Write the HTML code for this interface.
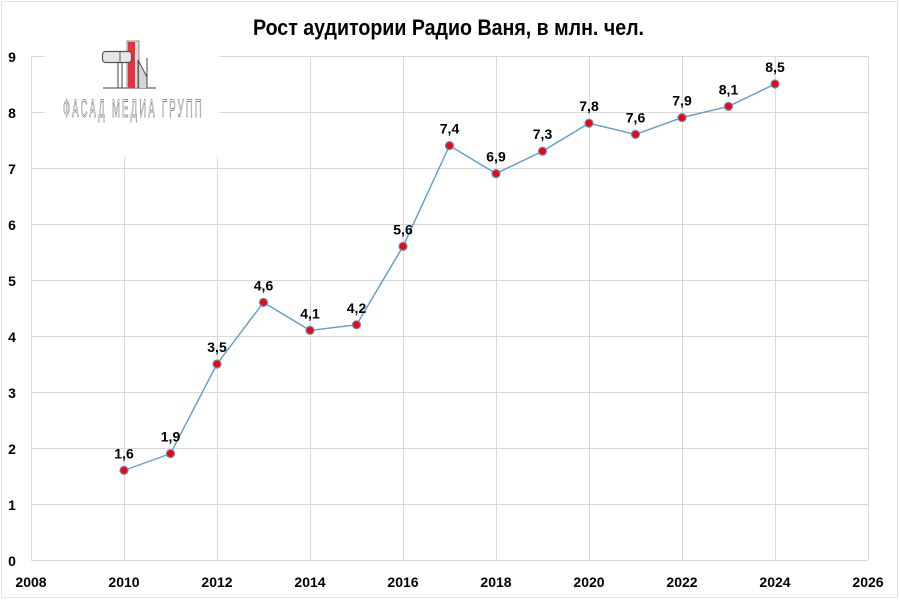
<!DOCTYPE html>
<html><head><meta charset="utf-8"><style>
html,body{margin:0;padding:0;background:#fff;}
svg{display:block;}
text{font-family:"Liberation Sans","DejaVu Sans",sans-serif;}
</style></head><body>
<svg width="900" height="600" viewBox="0 0 900 600" xmlns="http://www.w3.org/2000/svg">
<rect x="0" y="0" width="900" height="600" fill="#fff"/>
<rect x="1.5" y="1.5" width="896" height="596" fill="none" stroke="#e3e3e3" stroke-width="1"/>
<!-- gridlines -->
<g stroke="#d9d9d9" stroke-width="1" fill="none">
<line x1="31" y1="504.5" x2="868" y2="504.5"/>
<line x1="31" y1="448.5" x2="868" y2="448.5"/>
<line x1="31" y1="392.5" x2="868" y2="392.5"/>
<line x1="31" y1="336.5" x2="868" y2="336.5"/>
<line x1="31" y1="280.5" x2="868" y2="280.5"/>
<line x1="31" y1="224.5" x2="868" y2="224.5"/>
<line x1="31" y1="168.5" x2="868" y2="168.5"/>
<line x1="31" y1="112.5" x2="868" y2="112.5"/>
<line x1="31" y1="56.5" x2="868" y2="56.5"/>
<line x1="31.5" y1="56" x2="31.5" y2="560"/>
<line x1="124.5" y1="56" x2="124.5" y2="560"/>
<line x1="217.5" y1="56" x2="217.5" y2="560"/>
<line x1="310.5" y1="56" x2="310.5" y2="560"/>
<line x1="403.5" y1="56" x2="403.5" y2="560"/>
<line x1="496.5" y1="56" x2="496.5" y2="560"/>
<line x1="589.5" y1="56" x2="589.5" y2="560"/>
<line x1="682.5" y1="56" x2="682.5" y2="560"/>
<line x1="775.5" y1="56" x2="775.5" y2="560"/>
<line x1="868.5" y1="56" x2="868.5" y2="560"/>
<line x1="31" y1="560.5" x2="868" y2="560.5"/>
</g>
<!-- logo box -->
<rect x="45" y="3" width="174" height="154" fill="#fff"/>
<g>
<line x1="103" y1="88" x2="156" y2="88" stroke="#666" stroke-width="1.2"/>
<rect x="127" y="41" width="12" height="47" fill="#ddd" stroke="#777" stroke-width="0.8"/>
<rect x="128" y="42" width="7" height="46" fill="#e8303f"/>
<rect x="102.5" y="51.5" width="29" height="11" rx="3" fill="#e6e6e6" stroke="#555" stroke-width="1.2"/>
<line x1="120" y1="51" x2="120" y2="63" stroke="#555" stroke-width="1"/>
<line x1="118" y1="62" x2="118" y2="88" stroke="#444" stroke-width="1"/>
<line x1="122" y1="62" x2="122" y2="88" stroke="#444" stroke-width="1"/>
<polygon points="140,66 147,78 147,88 140,88" fill="#d5d5d5"/>
<polyline points="138,88 138,60 147,77 147,58 147,88" fill="none" stroke="#444" stroke-width="1"/>
<text x="63" y="117" font-size="25" letter-spacing="6" textLength="141" lengthAdjust="spacingAndGlyphs" fill="none" stroke="#333" stroke-width="0.6">ФАСАД МЕДИА ГРУПП</text>
</g>
<!-- title -->
<text x="253" y="35" font-size="22" font-weight="bold" fill="#000" textLength="391" lengthAdjust="spacingAndGlyphs">Рост аудитории Радио Ваня, в млн. чел.</text>
<!-- y labels -->
<g font-size="14" font-weight="bold" fill="#000" text-anchor="middle">
<text x="12" y="566">0</text>
<text x="12" y="510">1</text>
<text x="12" y="454">2</text>
<text x="12" y="398">3</text>
<text x="12" y="342">4</text>
<text x="12" y="286">5</text>
<text x="12" y="230">6</text>
<text x="12" y="174">7</text>
<text x="12" y="118">8</text>
<text x="12" y="62">9</text>
</g>
<!-- x labels -->
<g font-size="14" font-weight="bold" fill="#000" text-anchor="middle">
<text x="31" y="587">2008</text>
<text x="124" y="587">2010</text>
<text x="217" y="587">2012</text>
<text x="310" y="587">2014</text>
<text x="403" y="587">2016</text>
<text x="496" y="587">2018</text>
<text x="589" y="587">2020</text>
<text x="682" y="587">2022</text>
<text x="775" y="587">2024</text>
<text x="868" y="587">2026</text>
</g>
<!-- series line -->
<polyline fill="none" stroke="#5b9bd5" stroke-width="1.4" points="124,470.4 170.5,453.6 217,364 263.5,302.4 310,330.4 356.5,324.8 403,246.4 449.5,145.6 496,173.6 542.5,151.2 589,123.2 635.5,134.4 682,117.6 728.5,106.4 775,84"/>
<!-- markers -->
<g fill="#ff0000" stroke="#5a8fcf" stroke-width="1.2">
<circle cx="124" cy="470.4" r="4"/>
<circle cx="170.5" cy="453.6" r="4"/>
<circle cx="217" cy="364" r="4"/>
<circle cx="263.5" cy="302.4" r="4"/>
<circle cx="310" cy="330.4" r="4"/>
<circle cx="356.5" cy="324.8" r="4"/>
<circle cx="403" cy="246.4" r="4"/>
<circle cx="449.5" cy="145.6" r="4"/>
<circle cx="496" cy="173.6" r="4"/>
<circle cx="542.5" cy="151.2" r="4"/>
<circle cx="589" cy="123.2" r="4"/>
<circle cx="635.5" cy="134.4" r="4"/>
<circle cx="682" cy="117.6" r="4"/>
<circle cx="728.5" cy="106.4" r="4"/>
<circle cx="775" cy="84" r="4"/>
</g>
<!-- data labels -->
<g font-size="14" font-weight="bold" fill="#000" text-anchor="middle">
<text x="124" y="458.4">1,6</text>
<text x="170.5" y="441.6">1,9</text>
<text x="217" y="352">3,5</text>
<text x="263.5" y="290.4">4,6</text>
<text x="310" y="318.4">4,1</text>
<text x="356.5" y="312.8">4,2</text>
<text x="403" y="234.4">5,6</text>
<text x="449.5" y="133.6">7,4</text>
<text x="496" y="161.6">6,9</text>
<text x="542.5" y="139.2">7,3</text>
<text x="589" y="111.2">7,8</text>
<text x="635.5" y="122.4">7,6</text>
<text x="682" y="105.6">7,9</text>
<text x="728.5" y="94.4">8,1</text>
<text x="775" y="72">8,5</text>
</g>
</svg>
</body></html>
